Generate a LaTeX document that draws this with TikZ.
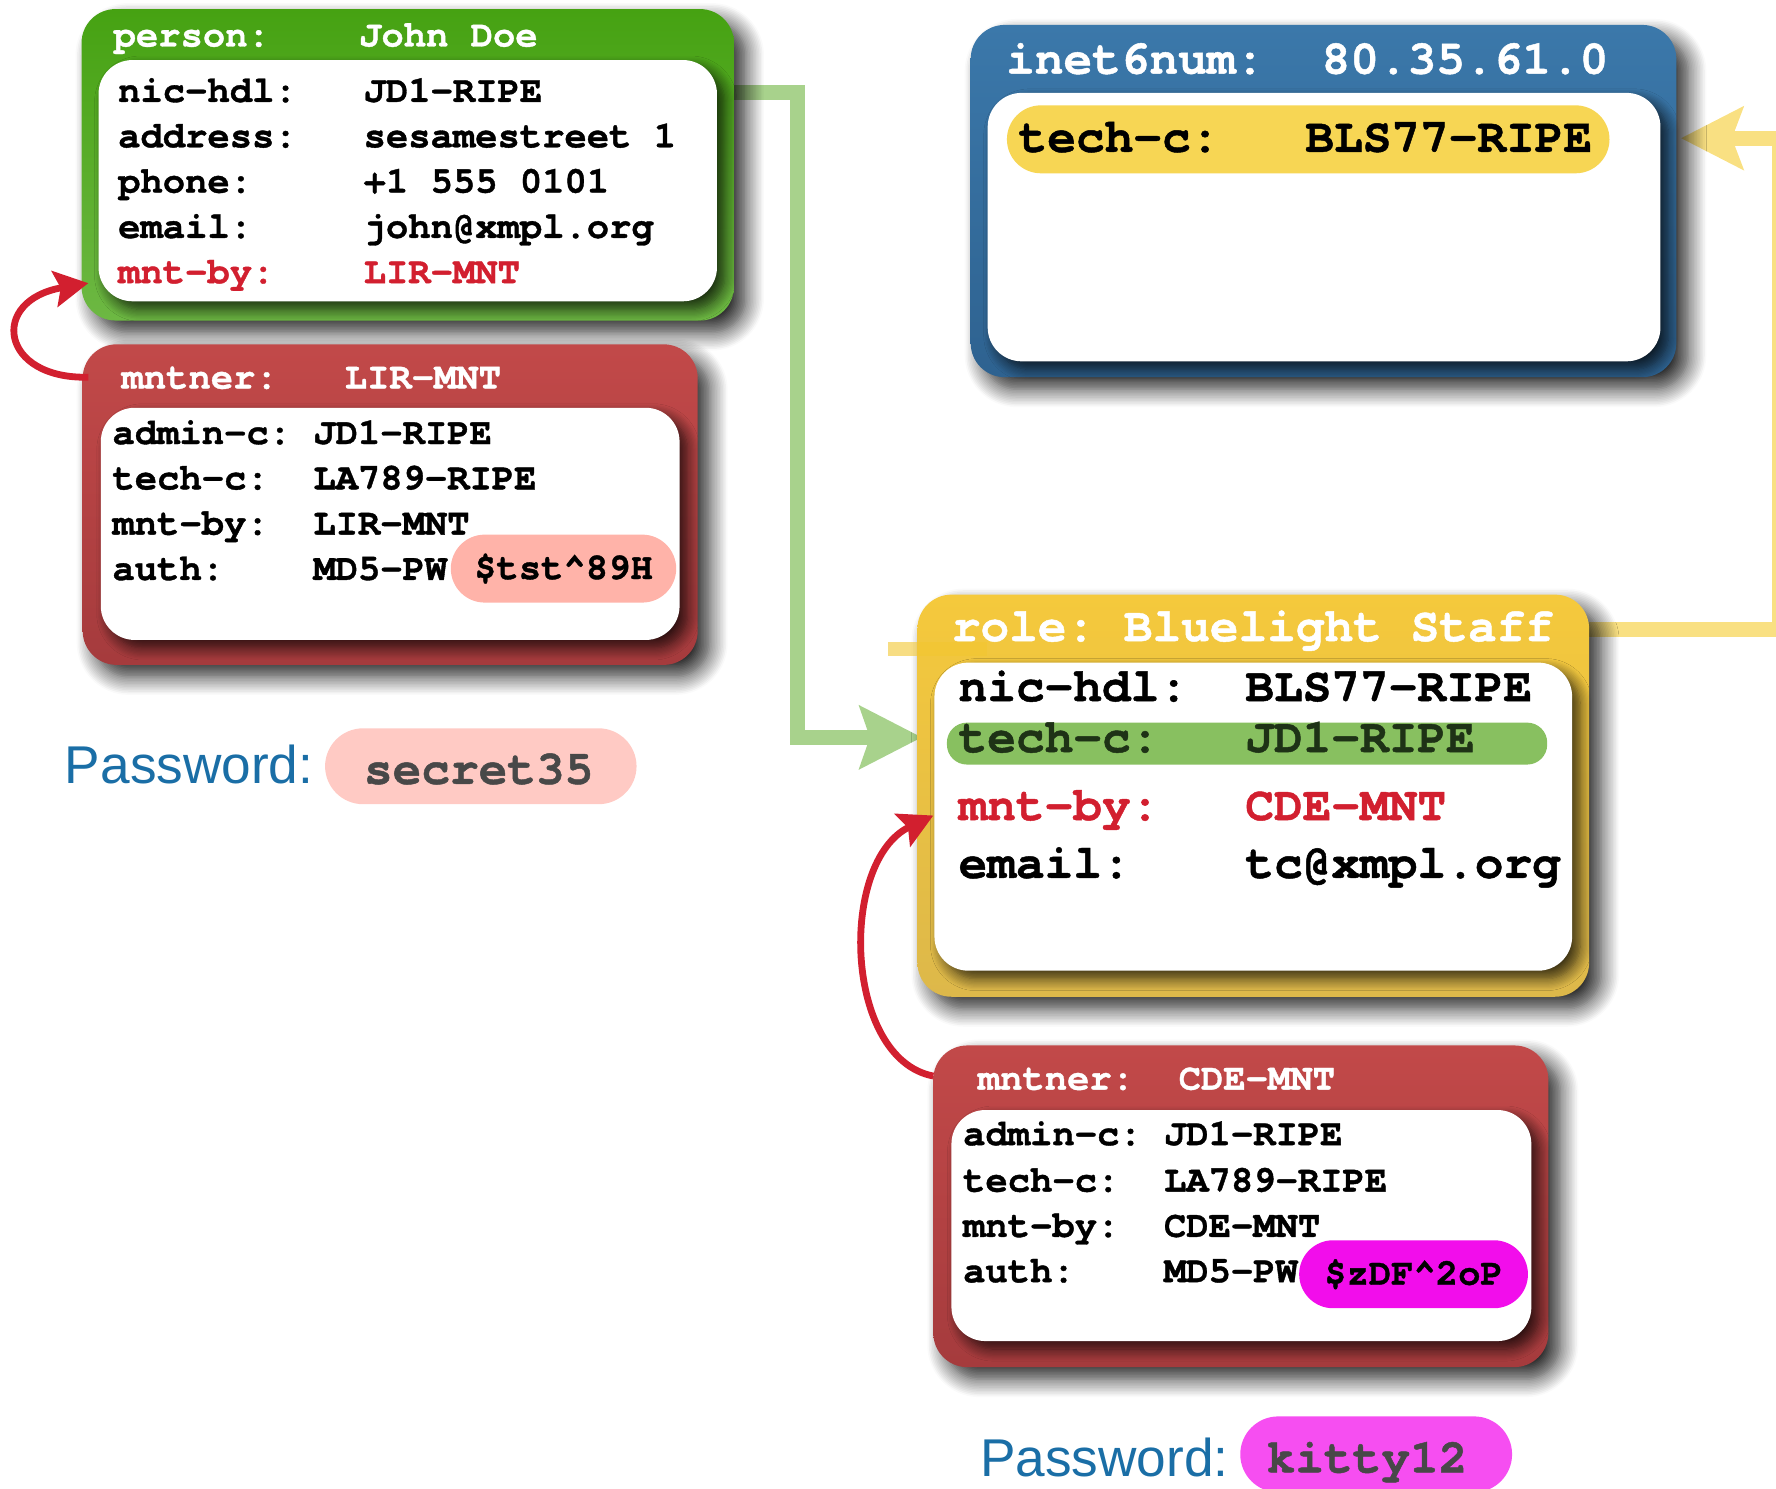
\documentclass[tikz,border=0pt]{standalone}
\usepackage{fontspec}
\setmainfont{Liberation Sans}
\setmonofont{texgyrecursor}[Extension=.otf,UprightFont=*-regular,BoldFont=*-bold,ItalicFont=*-italic,BoldItalicFont=*-bolditalic,BoldFeatures={FakeBold=1},Ligatures=NoCommon]
\usepackage{tikz}
\usetikzlibrary{arrows.meta}
\usetikzlibrary{calc}
\usetikzlibrary{backgrounds}
\usetikzlibrary{shadows.blur}

\definecolor{grntop}{HTML}{46A212}
\definecolor{grnbot}{HTML}{6DB843}
\definecolor{redtop}{HTML}{C24949}
\definecolor{redbot}{HTML}{A53B3D}
\definecolor{blutop}{HTML}{3B78AA}
\definecolor{blubot}{HTML}{2E6290}
\definecolor{yeltop}{HTML}{F5C93C}
\definecolor{yelbot}{HTML}{DDB84A}
\definecolor{mntred}{HTML}{D21F2F}
\definecolor{pwblue}{HTML}{1A6EA6}
\definecolor{pwgray}{HTML}{484848}
\definecolor{salmonpill}{HTML}{FFB3A9}
\definecolor{salmonlt}{HTML}{FFCAC4}
\definecolor{magpill}{HTML}{F20DEB}
\definecolor{magpilllt}{HTML}{F64EF1}
\definecolor{yelpill}{HTML}{F7D654}
\definecolor{grnpill}{HTML}{88C060}
\definecolor{grnline}{HTML}{A8D28C}
\definecolor{yelline}{HTML}{F9E082}
\definecolor{yelstub}{HTML}{F2C630}
\definecolor{grntxt}{HTML}{1E3216}

\newcommand{\px}{0.5664pt}
\newcommand{\smallmono}{\ttfamily\bfseries\fontsize{18.6}{22}\selectfont}
\newcommand{\largemono}{\ttfamily\bfseries\fontsize{23.9}{28}\selectfont}

\begin{document}
\begin{tikzpicture}[x=\px,y=-\px]
		\tikzstyle{objbox}=[rectangle,anchor=north west,inner sep=0pt,outer sep=0pt,rounded corners=17pt,
			blur shadow={shadow xshift=6pt,shadow yshift=-6pt,shadow blur radius=9pt,shadow blur steps=12,shadow opacity=85}];
		\tikzstyle{objbody}=[rectangle,anchor=north west,inner sep=0pt,outer sep=0pt,rounded corners=17pt,fill=white,
			blur shadow={shadow xshift=4pt,shadow yshift=-4pt,shadow blur radius=6pt,shadow blur steps=10,shadow opacity=75}];
		\tikzstyle{fieldsmall}=[anchor=base west,inner sep=0pt,font=\smallmono];
		\tikzstyle{fieldlarge}=[anchor=base west,inner sep=0pt,font=\largemono];
		\tikzstyle{pill}=[rectangle,anchor=center,inner sep=0pt];
		\tikzstyle{conn}=[line width=7.4pt];
		\tikzstyle{mntarrow}=[draw=mntred,line width=3.4pt,-{Stealth[length=17pt,width=18pt,inset=3pt]}];

		\useasboundingbox (0,0) rectangle (1568,1314);

		% objects
		\node[objbox,top color=grntop,bottom color=grnbot,minimum width=576*\px,minimum height=275*\px](person)at(72,8){};
		\node[objbody,minimum width=546*\px,minimum height=213*\px](personbody)at(87,53){};

		\node[objbox,top color=redtop,bottom color=redbot,minimum width=543*\px,minimum height=283*\px](lir)at(73,304){};
		\node[objbody,minimum width=511*\px,minimum height=205*\px](lirbody)at(89,360){};

		\node[objbox,top color=blutop,bottom color=blubot,minimum width=623*\px,minimum height=311*\px](inet)at(857,22){};
		\node[objbody,minimum width=594*\px,minimum height=237*\px](inetbody)at(872,82){};

		\node[objbox,top color=yeltop,bottom color=yelbot,minimum width=593*\px,minimum height=355*\px](role)at(810,525){};
		\node[objbody,minimum width=563*\px,minimum height=272*\px](rolebody)at(825,585){};

		\node[objbox,top color=redtop,bottom color=redbot,minimum width=543*\px,minimum height=284*\px](cde)at(824,923){};
		\node[objbody,minimum width=512*\px,minimum height=204*\px](cdebody)at(840,980){};

		% references between objects
		\begin{scope}[on background layer]
			\draw[conn,grnline,-{Stealth[length=31pt,width=31pt,inset=5pt]}]($(person.north east)+(0,73.5)$)-|($(role.north west)+(-106,126)$)--($(role.north west)+(4,126)$);
			\draw[conn,yelline,-{Stealth[length=31pt,width=31pt,inset=5.5pt]}]($(role.north east)+(0,31)$)-|($(inet.north east)+(91,100)$)--($(inet.north east)+(4,100)$);
		\end{scope}
		\draw[conn,yelstub,opacity=0.6]($(role.north west)+(-26,48)$)--($(role.north west)+(61,48)$);

		\draw[mntarrow]($(lir.north west)+(5,29)$).. controls ($(lir.north west)+(-73,31)$) and ($(lir.north west)+(-83,-39)$) ..($(person.south west)+(6,-33)$);
		\draw[mntarrow]($(cde.north west)+(0,27)$).. controls ($(cde.north west)+(-79,12)$) and ($(role.north west)+(-70,235)$) ..($(role.north west)+(14,195)$);

		% person
		\node[fieldsmall,text=white](ptitle)at(100,41){person:~~~~John Doe};
		\node[fieldsmall](p1)at(104,90){nic-hdl:~~~JD1-RIPE};
		\node[fieldsmall](p2)at(104,130){address:~~~sesamestreet 1};
		\node[fieldsmall](p3)at(104,170){phone:~~~~~+1 555 0101};
		\node[fieldsmall](p4)at(104,210){email:~~~~~john@xmpl.org};
		\node[fieldsmall,text=mntred](p5)at(104,250){mnt-by:~~~~LIR-MNT};

		% mntner LIR-MNT
		\node[fieldsmall,text=white](ltitle)at(107,343){mntner:~~~LIR-MNT};
		\node[fieldsmall](l1)at(99,392){admin-c:~JD1-RIPE};
		\node[fieldsmall](l2)at(99,432){tech-c:~~LA789-RIPE};
		\node[fieldsmall](l3)at(99,472){mnt-by:~~LIR-MNT};
		\node[fieldsmall](l4)at(99,512){auth:~~~~MD5-PW};
		\node[pill,fill=salmonpill,minimum width=199*\px,minimum height=60*\px,rounded corners=17pt,font=\smallmono](l4pw)at(497.5,502){\$tst\textasciicircum89H};

		% inet6num
		\node[fieldlarge,text=white](ititle)at(888,65){inet6num:~~80.35.61.0};
		\node[pill,fill=yelpill,minimum width=532*\px,minimum height=60*\px,rounded corners=17pt](i1pill)at(1155,123){};
		\node[fieldlarge](i1)at(899,134){tech-c:~~~BLS77-RIPE};

		% role
		\node[fieldlarge,text=white](rtitle)at(840,566){role:~Bluelight Sta{}f{}f};
		\node[fieldlarge](r1)at(846,619){nic-hdl:~~BLS77-RIPE};
		\node[pill,fill=grnpill,minimum width=530*\px,minimum height=37*\px,rounded corners=10pt](r2pill)at(1101,656.5){};
		\node[fieldlarge,text=grntxt](r2)at(846,664){tech-c:~~~JD1-RIPE};
		\node[fieldlarge,text=mntred](r3)at(846,724){mnt-by:~~~CDE-MNT};
		\node[fieldlarge](r4)at(846,775){email:~~~~tc@xmpl.org};

		% mntner CDE-MNT
		\node[fieldsmall,text=white](ctitle)at(863,962){mntner:~~CDE-MNT};
		\node[fieldsmall](c1)at(850,1011){admin-c:~JD1-RIPE};
		\node[fieldsmall](c2)at(850,1052){tech-c:~~LA789-RIPE};
		\node[fieldsmall](c3)at(850,1092){mnt-by:~~CDE-MNT};
		\node[fieldsmall](c4)at(850,1132){auth:~~~~MD5-PW};
		\node[pill,fill=magpill,minimum width=202*\px,minimum height=60*\px,rounded corners=17pt,font=\smallmono](c4pw)at(1248,1125){\$zDF\textasciicircum2oP};

		% passwords
		\node[anchor=base west,inner sep=0pt,text=pwblue,font=\fontsize{26.6}{30}\selectfont](pw1)at(57,692){Password:};
		\node[pill,fill=salmonlt,minimum width=275*\px,minimum height=67*\px,rounded corners=19pt](pw1pill)at(424.5,676.5){};
		\node[fieldlarge,text=pwgray](pw1val)at(321,692){secret35};
		\node[anchor=base west,inner sep=0pt,text=pwblue,font=\fontsize{26.6}{30}\selectfont](pw2)at(865,1304){Password:};
		\node[pill,fill=magpilllt,minimum width=240*\px,minimum height=67*\px,rounded corners=19pt](pw2pill)at(1215,1284){};
		\node[fieldlarge,text=pwgray](pw2val)at(1118,1300){kitty12};
	\end{tikzpicture}
\end{document}
